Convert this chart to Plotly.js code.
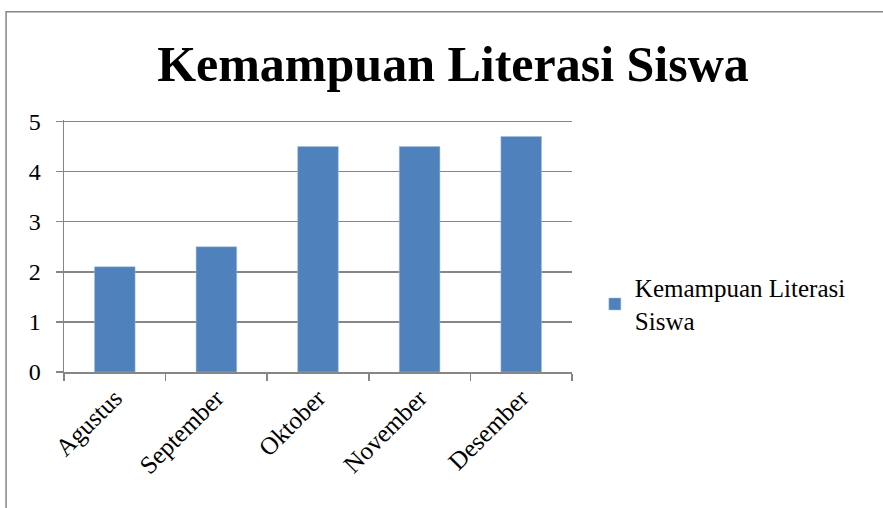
<!DOCTYPE html>
<html>
<head>
<meta charset="utf-8">
<script src="https://cdn.plot.ly/plotly-3.0.1.min.js"></script>
<style>html,body{margin:0;padding:0;background:#fff;}#chart{width:883px;height:508px;}</style>
</head>
<body>
<div id="chart"></div>
<script>
const categories = ["Agustus", "September", "Oktober", "November", "Desember"];
const values = [2.1, 2.5, 4.5, 4.5, 4.7];
const seriesName = "Kemampuan Literasi<br>Siswa";
const yTicks = [0, 1, 2, 3, 4, 5];

const font = "Liberation Serif";

const trace = {
  type: "bar",
  x: categories,
  y: values,
  name: seriesName,
  marker: {color: "#4F81BD", line: {color: "#A7C0DE", width: 0.5}},
  showlegend: true,
  hoverinfo: "x+y"
};

const layout = {
  width: 883, height: 508,
  margin: {l: 64, r: 311, t: 120, b: 136, pad: 0},
  paper_bgcolor: "#fff", plot_bgcolor: "#fff",
  font: {family: font, color: "#000", size: 24},
  title: {text: "<b>Kemampuan Literasi Siswa</b>", font: {family: font, size: 50, color: "#000"},
          x: 0.513, xanchor: "center", xref: "container", y: 0.875, yref: "container", yanchor: "middle"},
  bargap: 0.6,
  xaxis: {
    type: "category", tickson: "boundaries", ticks: "outside", ticklen: 7, tickcolor: "#868686", tickwidth: 1.5,
    showline: true, linecolor: "#868686", linewidth: 1.5, showgrid: false,
    tickangle: -45, tickfont: {family: font, size: 25}, automargin: false
  },
  yaxis: {
    range: [0, 5.03], tickvals: yTicks, ticks: "outside", ticklen: 7, tickcolor: "#868686", tickwidth: 1.5,
    showline: true, linecolor: "#868686", linewidth: 1.5, showgrid: true, gridcolor: "#868686", gridwidth: 1.5,
    zeroline: false, tickfont: {family: font, size: 24}, ticklabelstandoff: 10, automargin: false
  },
  legend: {x: 1.045, xanchor: "left", y: 0.27, yanchor: "middle", font: {family: font, size: 25},
           bgcolor: "rgba(0,0,0,0)", itemwidth: 30, tracegroupgap: 0},
  shapes: [{type: "rect", xref: "paper", yref: "paper", x0: -0.114, x1: 1.8, y0: -0.6, y1: 1.43,
            line: {color: "#868686", width: 1.5}, fillcolor: "rgba(0,0,0,0)", layer: "below"}]
};

Plotly.newPlot("chart", [trace], layout, {displayModeBar: false, staticPlot: true});
</script>
</body>
</html>
